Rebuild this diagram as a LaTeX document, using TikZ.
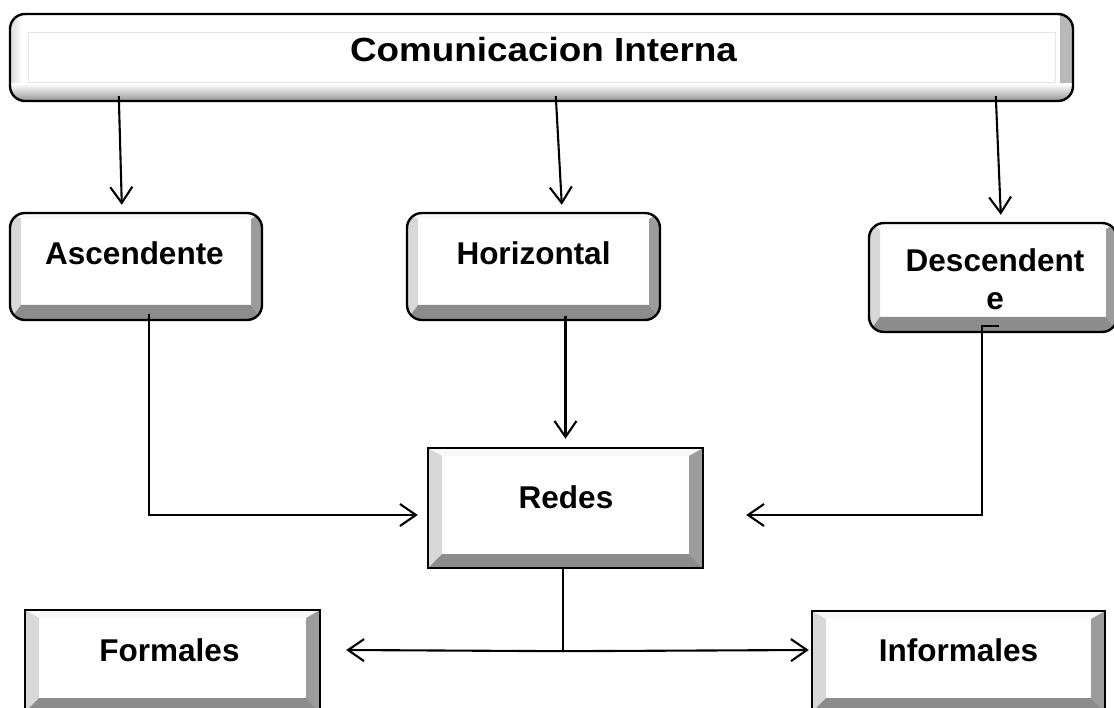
\documentclass[tikz,border=0pt]{standalone}
\usepackage{fontspec}
\setmainfont{Liberation Sans}
\usetikzlibrary{arrows.meta,calc}
\definecolor{bvL}{HTML}{D8D8D8}
\definecolor{bvR}{HTML}{9C9C9C}
\definecolor{bvB}{HTML}{8C8C8C}
\definecolor{bvT}{HTML}{F8F8F8}
\newcommand{\bvs}{10pt}
\newcommand{\bvt}{6pt}
\newcommand{\bvb}{15pt}
\tikzset{
  lbl/.style={font=\bfseries\fontsize{31.5}{38}\selectfont, inner sep=0pt, anchor=base, align=center},
  conn/.style={line width=2.1pt},
  arr/.style={conn, -{Straight Barb[length=16pt,width=22pt,line width=2.1pt]}},
  bevsize/.code args={#1/#2/#3}{\renewcommand{\bvs}{#1}\renewcommand{\bvt}{#2}\renewcommand{\bvb}{#3}},
  bevbox/.style args={#1x#2}{draw=black, line width=2.4pt, fill=white, inner sep=0pt,
    minimum width=#1, minimum height=#2,
    path picture={
      \path[sharp corners] (path picture bounding box.south west) coordinate (SW)
        (path picture bounding box.north west) coordinate (NW)
        (path picture bounding box.north east) coordinate (NE)
        (path picture bounding box.south east) coordinate (SE);
      \fill[bvT, sharp corners] (NW) -- (NE) -- ([shift={(-\bvs,-\bvt)}]NE) -- ([shift={(\bvs,-\bvt)}]NW) -- cycle;
      \fill[bvL, sharp corners] (SW) -- (NW) -- ([shift={(\bvs,-\bvt)}]NW) -- ([shift={(\bvs,\bvb)}]SW) -- cycle;
      \fill[bvR, sharp corners] (SE) -- (NE) -- ([shift={(-\bvs,-\bvt)}]NE) -- ([shift={(-\bvs,\bvb)}]SE) -- cycle;
      \fill[bvB, sharp corners] (SW) -- (SE) -- ([shift={(-\bvs,\bvb)}]SE) -- ([shift={(\bvs,\bvb)}]SW) -- cycle;
    }},
  roundbev/.style={rounded corners=15pt, bevsize={11pt/6pt/15pt}},
  flatbev/.style={sharp corners, bevsize={14pt/8pt/14pt}},
  titlebox/.style={draw=black, line width=2.4pt, fill=white, rounded corners=15pt, inner sep=0pt,
    minimum width=1063pt, minimum height=87pt,
    path picture={
      \shade[sharp corners, left color=white, right color=black!28]
        ([xshift=-13pt]path picture bounding box.south east) rectangle (path picture bounding box.north east);
      \shade[sharp corners, left color=black!14, right color=white]
        (path picture bounding box.south west) rectangle ([xshift=12pt]path picture bounding box.north west);
      \shade[sharp corners, top color=white, bottom color=black!42]
        ([yshift=17pt]path picture bounding box.south west) rectangle (path picture bounding box.south east);
      \draw[sharp corners, black!10, line width=1pt]
        ([shift={(18pt,18pt)}]path picture bounding box.south west) rectangle ([shift={(-18pt,-19pt)}]path picture bounding box.north east);
    }}
}
\begin{document}
\begin{tikzpicture}[x=1pt,y=-1pt]
\useasboundingbox (0,0) rectangle (1114,708);
\clip (0,0) rectangle (1114,708);
\fill[white] (0,0) rectangle (1114,708);

% boxes
\node[titlebox] (title) at (541.5,57.5) {};
\node[bevbox={252pt x 107pt}, roundbev] (asc) at (136,266.5) {};
\node[bevbox={253pt x 107pt}, roundbev] (hor) at (533.5,266.5) {};
\node[bevbox={248pt x 109pt}, roundbev] (desc) at (993,277.5) {};
\node[bevbox={275pt x 120pt}, flatbev] (redes) at (565.5,508) {};
\node[bevbox={295pt x 102pt}, flatbev] (formales) at (172.5,661) {};
\node[bevbox={293pt x 101pt}, flatbev] (inf) at (958.5,661.5) {};

% labels
\node[lbl, font=\bfseries\fontsize{33.5}{40}\selectfont] (tTitle) at ($(title.center)+(2,4.5)$) {\scalebox{1.1}[1]{Comunicacion Interna}};
\node[lbl] (tAsc) at ($(asc.center)+(-1.5,-1.5)$) {Ascendente};
\node[lbl] (tHor) at ($(hor.center)+(0,-1.5)$) {Horizontal};
\node[lbl] (tDesc) at ($(desc.center)+(2,32.5)$) {Descendent\\e};
\node[lbl] (tRedes) at ($(redes.center)+(0.5,0)$) {Redes};
\node[lbl] (tFor) at ($(formales.center)+(-3,0.5)$) {Formales};
\node[lbl] (tInf) at ($(inf.center)+(0,-0.5)$) {Informales};

% connectors
\draw[arr] ($(title.south west)+(110,-6)$) -- ($(asc.north west)+(113,-7)$);
\draw[arr] ($(title.south west)+(547,-6)$) -- ($(hor.north west)+(156,-7)$);
\draw[arr] ($(title.south west)+(987,-6)$) -- ($(desc.north west)+(133,-7)$);

\draw[arr] ($(asc.south west)+(140,-7)$) |- ($(redes.west)+(-9,7)$);
\draw[arr] ($(hor.south)+(32,-5)$) -- ($(redes.north)+(0,-8)$);
\draw[arr] ($(desc.south west)+(131,-7)$) -- ($(desc.south west)+(114,-7)$) |- ($(redes.east)+(42,7)$);

\coordinate (j) at ($(redes.south)+(-2.5,82)$);
\draw[conn] ($(redes.south)+(-13,-1)$) -- ($(redes.south)+(-2.5,-1)$) -- (j);
\draw[arr] (j) -- ($(formales.east)+(25,-11)$);
\draw[arr] (j) -- ($(inf.west)+(-2,-11.5)$);
\end{tikzpicture}
\end{document}
